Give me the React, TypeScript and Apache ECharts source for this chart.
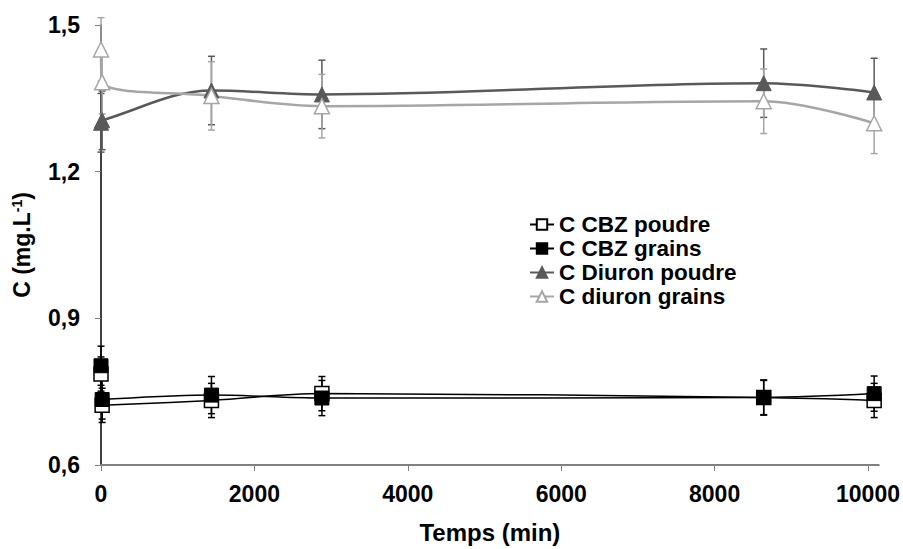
import React, { useEffect, useRef } from "react";
import * as echarts from "echarts";

const times = [0, 15, 1440, 2880, 8640, 10080];
const xTicks = [0, 2000, 4000, 6000, 8000, 10000];

const cbzPoudre = [0.786, 0.722, 0.732, 0.746, 0.738, 0.732];
const cbzPoudreErr = [0.035, 0.035, 0.035, 0.035, 0.035, 0.035];
const cbzGrains = [0.803, 0.734, 0.743, 0.737, 0.738, 0.746];
const cbzGrainsErr = [0.04, 0.04, 0.038, 0.036, 0.036, 0.036];
const diuronPoudre = [1.3, 1.305, 1.366, 1.358, 1.381, 1.362];
const diuronPoudreErr = [0.06, 0.06, 0.07, 0.07, 0.07, 0.07];
const diuronGrains = [1.45, 1.383, 1.355, 1.334, 1.344, 1.299];
const diuronGrainsErr = [0.065, 0.065, 0.07, 0.065, 0.066, 0.062];

const names = ["C CBZ poudre", "C CBZ grains", "C Diuron poudre", "C diuron grains"];

const FONT = "'Liberation Sans', Arial, sans-serif";

function pairs(vals: number[]) {
  return times.map((t, i) => [t, vals[i]]);
}
function errData(vals: number[], errs: number[]) {
  return times.map((t, i) => [t, vals[i] - errs[i], vals[i] + errs[i]]);
}
function errSeries(vals: number[], errs: number[], color: string) {
  return {
    type: "custom",
    z: 1,
    silent: true,
    data: errData(vals, errs),
    encode: { x: 0, y: [1, 2] },
    renderItem: (params: any, api: any) => {
      const x = api.value(0);
      const lo = api.value(1);
      const hi = api.value(2);
      const p1 = api.coord([x, hi]);
      const p2 = api.coord([x, lo]);
      const w = 3.5;
      const style = { stroke: color, lineWidth: 1.5 };
      return {
        type: "group",
        children: [
          { type: "line", shape: { x1: p1[0], y1: p1[1], x2: p2[0], y2: p2[1] }, style },
          { type: "line", shape: { x1: p1[0] - w, y1: p1[1], x2: p1[0] + w, y2: p1[1] }, style },
          { type: "line", shape: { x1: p2[0] - w, y1: p2[1], x2: p2[0] + w, y2: p2[1] }, style },
        ],
      };
    },
  };
}

export default function App() {
  const ref = useRef<HTMLDivElement>(null);
  useEffect(() => {
    if (!ref.current) return;
    const chart = echarts.init(ref.current, undefined, { renderer: "svg" });
    const lineSeries = (
      name: string,
      vals: number[],
      color: string,
      symbol: string,
      hollow: boolean,
      size: number,
      width: number
    ) => ({
      name,
      type: "line",
      z: 3,
      smooth: 0.35,
      data: pairs(vals),
      symbol,
      symbolSize: size,
      showAllSymbol: true,
      lineStyle: { color, width },
      itemStyle: hollow
        ? { color: "#ffffff", borderColor: color, borderWidth: 1.5 }
        : { color, borderColor: color, borderWidth: 1 },
    });
    chart.setOption({
      animation: false,
      backgroundColor: "#ffffff",
      grid: { left: 101, right: 23, top: 25, bottom: 76 },
      legend: {
        data: names,
        orient: "vertical",
        left: 529,
        top: 213,
        itemWidth: 24,
        itemHeight: 13,
        itemGap: 1,
        padding: 0,
        textStyle: { fontFamily: FONT, fontWeight: "bold", fontSize: 22.5, lineHeight: 22, color: "#000" },
      },
      xAxis: {
        type: "value",
        min: 0,
        max: 10140,
        name: "Temps (min)",
        nameLocation: "middle",
        nameGap: 55,
        nameTextStyle: { fontFamily: FONT, fontWeight: "bold", fontSize: 24, color: "#000" },
        axisLine: { show: true, lineStyle: { color: "#808080", width: 2 } },
        axisTick: { show: true, customValues: xTicks, length: 6, lineStyle: { color: "#808080", width: 1 } },
        axisLabel: {
          customValues: xTicks,
          margin: 17,
          fontFamily: FONT,
          fontWeight: "bold",
          fontSize: 23,
          color: "#000",
          formatter: (v: number) => String(Math.round(v)),
        },
        splitLine: { show: false },
      },
      yAxis: {
        type: "value",
        min: 0.6,
        max: 1.5,
        interval: 0.3,
        name: "C (mg.L{sup|-1})",
        nameLocation: "middle",
        nameGap: 67,
        nameRotate: 90,
        nameTextStyle: {
          fontFamily: FONT,
          fontWeight: "bold",
          fontSize: 23,
          color: "#000",
          rich: {
            sup: { fontFamily: FONT, fontWeight: "bold", fontSize: 14, color: "#000", verticalAlign: "top", padding: [0, 0, 10, 0] },
          },
        },
        axisLine: { show: true, lineStyle: { color: "#000", width: 1.5 } },
        axisTick: { show: true, length: 6, lineStyle: { color: "#808080", width: 1 } },
        axisLabel: {
          margin: 21,
          fontFamily: FONT,
          fontWeight: "bold",
          fontSize: 23,
          color: "#000",
          formatter: (v: number) => v.toFixed(1).replace(".", ","),
        },
        splitLine: { show: false },
      },
      series: [
        errSeries(cbzPoudre, cbzPoudreErr, "#000000"),
        errSeries(cbzGrains, cbzGrainsErr, "#000000"),
        errSeries(diuronPoudre, diuronPoudreErr, "#595959"),
        errSeries(diuronGrains, diuronGrainsErr, "#a6a6a6"),
        lineSeries(names[0], cbzPoudre, "#000000", "rect", true, 14, 1.5),
        lineSeries(names[1], cbzGrains, "#000000", "rect", false, 14, 1.5),
        lineSeries(names[2], diuronPoudre, "#595959", "triangle", false, 15, 2.5),
        lineSeries(names[3], diuronGrains, "#a6a6a6", "triangle", true, 15, 2.5),
      ],
    });
    return () => chart.dispose();
  }, []);
  return (
    <div
      ref={ref}
      style={{ position: "absolute", left: 0, top: 0, width: 903, height: 549 }}
    />
  );
}
